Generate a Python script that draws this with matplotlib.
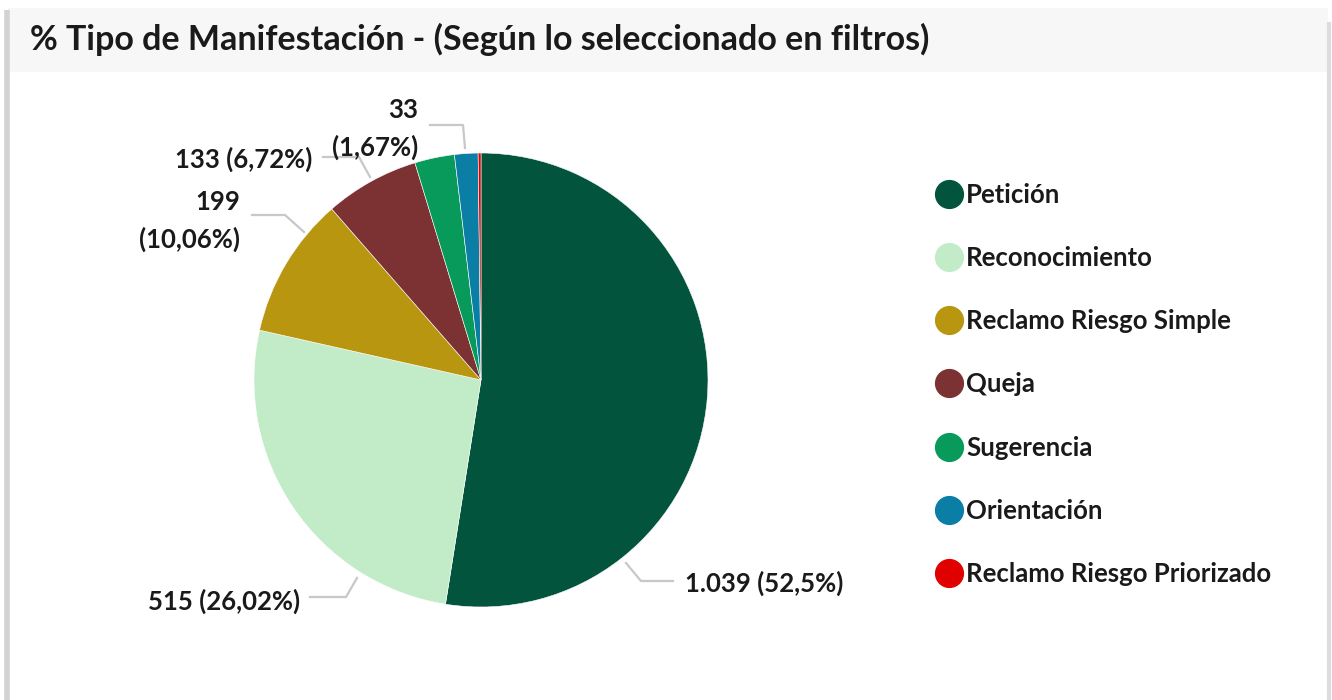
import numpy as np
import matplotlib.pyplot as plt
from matplotlib.patches import Rectangle
from matplotlib.lines import Line2D

plt.rcParams["font.family"] = ["Lato", "DejaVu Sans"]
plt.rcParams["font.weight"] = "bold"

categorias = ["Petición", "Reconocimiento", "Reclamo Riesgo Simple", "Queja",
              "Sugerencia", "Orientación", "Reclamo Riesgo Priorizado"]
valores = [1039, 515, 199, 133, 56, 33, 4]
colores = ["#03543c", "#c2ecc8", "#b8960f", "#7c3232", "#079a5a", "#0a7ea4", "#e00000"]
titulo = "% Tipo de Manifestación - (Según lo seleccionado en filtros)"

W, H = 1332, 700
cx, cy, r = 481, 380, 227   # pie centre / radius in pixels


def px(x, y):
    # image pixel (from top-left) -> data units
    return (x - cx) / r, (cy - y) / r


fig = plt.figure(figsize=(W / 100, H / 100), dpi=100)
fig.patch.set_facecolor("white")
ax = fig.add_axes([0, 0, 1, 1])
ax.axis("off")

# card frame
ax.add_patch(Rectangle(px(8, 72), (1328 - 8) / r, (72 - 8) / r, facecolor="#f7f7f7",
                       edgecolor="none", zorder=0))
x0, y0 = px(7, 700)
x1, y1 = px(7, 10)
ax.plot([x0, x1], [y0, y1], color="#d2d2d2", lw=4, solid_capstyle="butt", zorder=1)
x0, y0 = px(1329, 700)
x1, y1 = px(1329, 22)
ax.plot([x0, x1], [y0, y1], color="#dcdcdc", lw=3, solid_capstyle="butt", zorder=1)

ax.text(*px(30, 39), titulo, fontsize=24.5, fontweight="bold", color="#1a1a1a",
        ha="left", va="center")

wedges, _ = ax.pie(valores, colors=colores, startangle=90, counterclock=False,
                   radius=1, center=(0, 0),
                   wedgeprops=dict(edgecolor="white", linewidth=0.4))

total = sum(valores)


def etiqueta(v, partido):
    num = f"{v:,}".replace(",", ".")
    pct = f"{round(v / total * 100, 2):g}".replace(".", ",")
    sep = "\n" if partido else " "
    return f"{num}{sep}({pct}%)"


# leader lines (pixel path) and text anchor for each labelled slice
lideres = {
    0: ([(626, 563), (641, 581), (673, 581)], (685, 583), "left", False),
    1: ([(357, 578), (346, 597), (310, 597)], (300, 601), "right", False),
    2: ([(304, 232), (285, 215), (252, 215)], (240, 221), "right", True),
    3: ([(370, 177), (359, 157), (323, 157)], (312, 159), "right", False),
    5: ([(465, 148), (463, 125), (430, 125)], (418, 129), "right", True),
}
for i, (ruta, pos, ha, partido) in lideres.items():
    xs, ys = zip(*[px(a, b) for a, b in ruta])
    ax.plot(xs, ys, color="#c8c8c8", lw=1.6, zorder=2)
    ax.text(*px(*pos), etiqueta(valores[i], partido), fontsize=18.5, fontweight="bold",
            color="#1a1a1a", ha=ha, va="center", linespacing=1.6, multialignment="right")

ax.set_xlim(-cx / r, (W - cx) / r)
ax.set_ylim((cy - H) / r, cy / r)
ax.set_aspect("auto")

handles = [Line2D([], [], marker="o", linestyle="none", markersize=20,
                  markerfacecolor=c, markeredgecolor=c) for c in colores]
leg = fig.legend(handles, categorias, loc="upper left",
                 bbox_to_anchor=(927 / W, 1 - 173 / H), frameon=False,
                 fontsize=18.5, labelspacing=1.52, handlelength=0.9,
                 handletextpad=0.22, borderaxespad=0)
for t in leg.get_texts():
    t.set_fontweight("bold")
    t.set_color("#1a1a1a")

fig.savefig("out.png", dpi=100)
